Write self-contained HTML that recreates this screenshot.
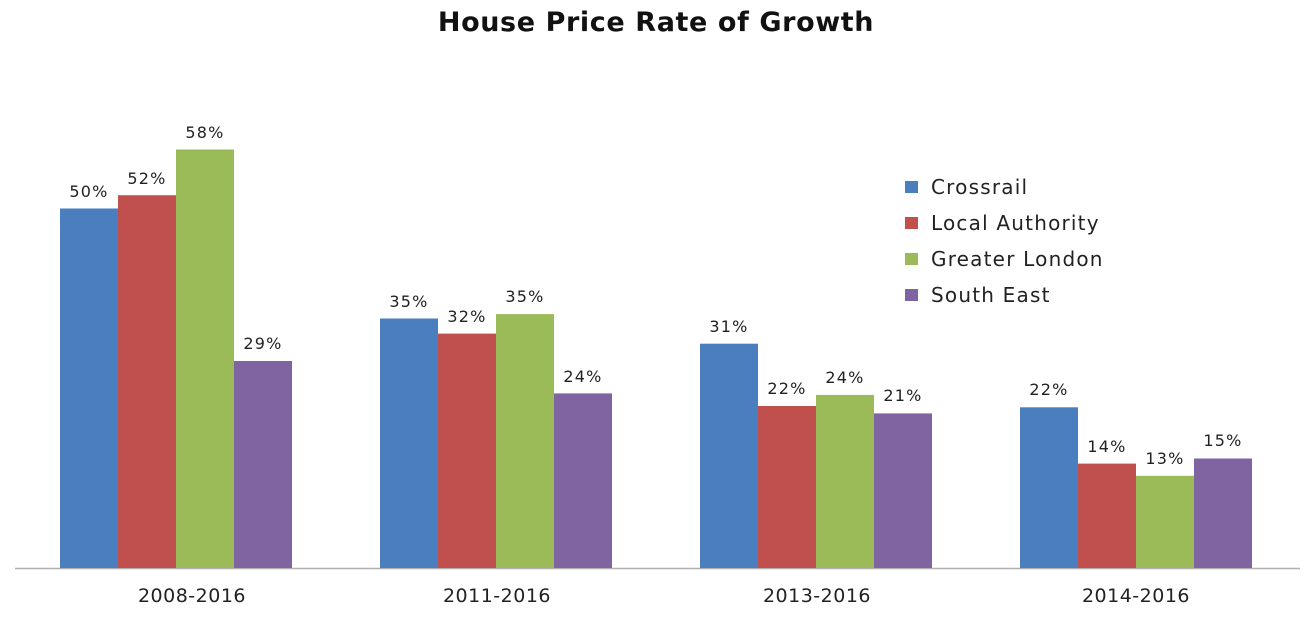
<!DOCTYPE html>
<html><head><style>body{margin:0;background:#fff}</style></head><body>
<svg width="1316" height="614" xmlns="http://www.w3.org/2000/svg" font-family="DejaVu Sans, sans-serif">
<rect width="1316" height="614" fill="#fff"/>
<text x="656" y="31" text-anchor="middle" font-size="27" font-weight="bold" letter-spacing="0.6" fill="#111">House Price Rate of Growth</text>
<line x1="15" y1="568.5" x2="1300" y2="568.5" stroke="#b0b0b0" stroke-width="1.5"/>
<g>
<rect x="60" y="208.5" width="58" height="359.5" fill="#4a7ebf"/>
<rect x="118" y="195.2" width="58" height="372.8" fill="#c0504d"/>
<rect x="176" y="149.5" width="58" height="418.5" fill="#9bbb59"/>
<rect x="234" y="361" width="58" height="207" fill="#8064a2"/>
<rect x="380" y="318.5" width="58" height="249.5" fill="#4a7ebf"/>
<rect x="438" y="333.6" width="58" height="234.4" fill="#c0504d"/>
<rect x="496" y="314.1" width="58" height="253.9" fill="#9bbb59"/>
<rect x="554" y="393.4" width="58" height="174.6" fill="#8064a2"/>
<rect x="700" y="343.7" width="58" height="224.3" fill="#4a7ebf"/>
<rect x="758" y="406" width="58" height="162" fill="#c0504d"/>
<rect x="816" y="394.9" width="58" height="173.1" fill="#9bbb59"/>
<rect x="874" y="413.4" width="58" height="154.6" fill="#8064a2"/>
<rect x="1020" y="407.3" width="58" height="160.7" fill="#4a7ebf"/>
<rect x="1078" y="463.6" width="58" height="104.4" fill="#c0504d"/>
<rect x="1136" y="475.8" width="58" height="92.2" fill="#9bbb59"/>
<rect x="1194" y="458.5" width="58" height="109.5" fill="#8064a2"/>
</g>
<g font-size="16" letter-spacing="1.2" fill="#222" text-anchor="middle">
<text x="89" y="197">50%</text><text x="147" y="184">52%</text><text x="205" y="138">58%</text><text x="263" y="349">29%</text>
<text x="409" y="307">35%</text><text x="467" y="322">32%</text><text x="525" y="302">35%</text><text x="583" y="382">24%</text>
<text x="729" y="332">31%</text><text x="787" y="394">22%</text><text x="845" y="383">24%</text><text x="903" y="401">21%</text>
<text x="1049" y="395">22%</text><text x="1107" y="452">14%</text><text x="1165" y="464">13%</text><text x="1223" y="446">15%</text>
</g>
<g font-size="19" letter-spacing="0.5" fill="#222" text-anchor="middle">
<text x="192" y="602">2008-2016</text><text x="497" y="602">2011-2016</text><text x="817" y="602">2013-2016</text><text x="1136" y="602">2014-2016</text>
</g>
<g font-size="20" letter-spacing="1.2" fill="#222">
<rect x="905" y="181" width="13" height="12" fill="#4a7ebf"/><text x="931" y="194">Crossrail</text>
<rect x="905" y="217" width="13" height="12" fill="#c0504d"/><text x="931" y="230">Local Authority</text>
<rect x="905" y="253" width="13" height="12" fill="#9bbb59"/><text x="931" y="266">Greater London</text>
<rect x="905" y="289" width="13" height="12" fill="#8064a2"/><text x="931" y="302">South East</text>
</g>
</svg>
</body></html>
